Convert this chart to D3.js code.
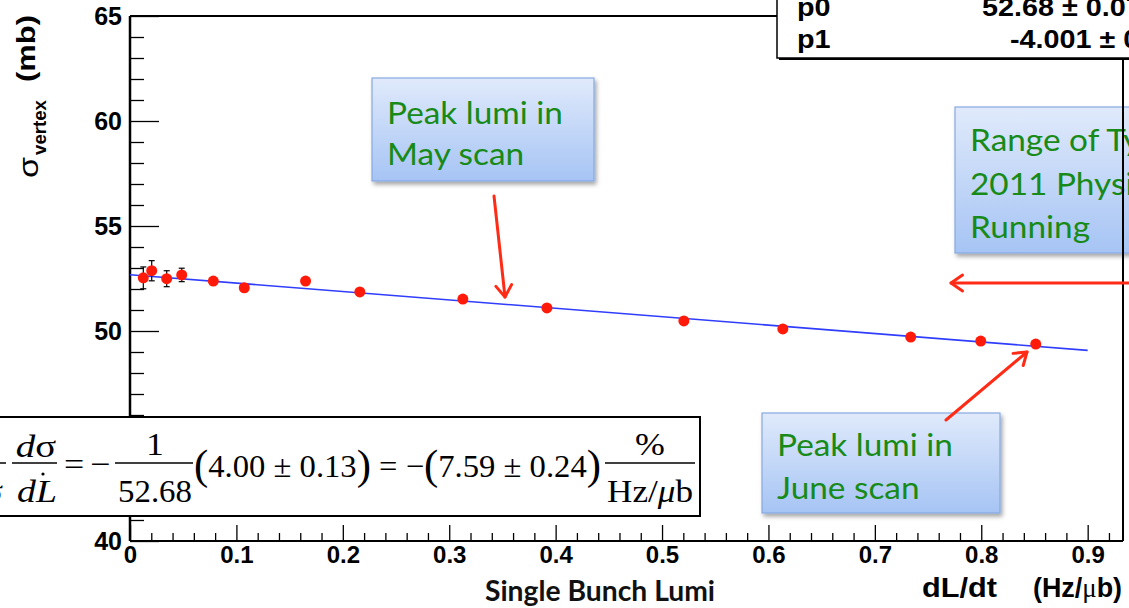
<!DOCTYPE html>
<html><head><meta charset="utf-8">
<script src="https://cdn.jsdelivr.net/npm/d3@7"></script>
<style>html,body{margin:0;padding:0;background:#fff;overflow:hidden}svg{display:block}</style>
</head><body>
<svg id="c" width="1129" height="608"></svg>
<script>
// ---------------- data ----------------
const lumi     = [0.0125,0.0204,0.0345,0.0486,0.0783,0.1074,0.165,0.216,0.3128,0.3918,0.5205,0.6135,0.7337,0.7995,0.8512];
const sigma    = [52.53,52.87,52.49,52.67,52.38,52.06,52.38,51.86,51.52,51.10,50.48,50.10,49.71,49.52,49.38];
const sigmaErr = [0.52,0.48,0.38,0.32,0.15,0.15,0.15,0.15,0.15,0.15,0.15,0.15,0.15,0.15,0.15];
const fitLumi  = [0, 0.9];
const fitSigma = [52.68, 49.079];
const xTickValues = [0,0.1,0.2,0.3,0.4,0.5,0.6,0.7,0.8,0.9];
const yTickValues = [40,45,50,55,60,65];
const statNames  = ["p0","p1"];
const statValues = ["52.68 \u00b1 0.07","-4.001 \u00b1 0.130"];
const noteMay  = ["Peak lumi in","May scan"];
const noteJune = ["Peak lumi in","June scan"];
const noteRange= ["Range of Typical","2011 Physics","Running"];

// ---------------- layout ----------------
const svg = d3.select("#c");
const L=130, R=1123, T=16, B=541;
const x = d3.scaleLinear().domain([0,0.9332]).range([L,R]);
const y = d3.scaleLinear().domain([40,65]).range([B,T]);
const ROOTF = "'Liberation Sans', Arial, sans-serif";
const SERIF = "'Liberation Serif', 'Times New Roman', serif";
const CAL = "Lato, 'Open Sans', sans-serif";
const RED = "#ff2b16";

const defs = svg.append("defs");
const grad = defs.append("linearGradient").attr("id","bg").attr("x1",0).attr("y1",0).attr("x2",0).attr("y2",1);
grad.append("stop").attr("offset","0%").attr("stop-color","#e0eafb");
grad.append("stop").attr("offset","100%").attr("stop-color","#a6c4f4");
const sh = defs.append("filter").attr("id","sh").attr("x","-10%").attr("y","-10%").attr("width","130%").attr("height","140%");
sh.append("feDropShadow").attr("dx",2).attr("dy",3).attr("stdDeviation",2).attr("flood-color","#000").attr("flood-opacity",0.35);

// text helper with horizontal stretch
function txt(parent, px, py, s, o={}){
  const g = parent.append("g").attr("transform",`translate(${px},${py}) scale(${o.sx||1},1)${o.rot?` rotate(${o.rot})`:""}`);
  const t = g.append("text").attr("x",0).attr("y",0)
    .attr("font-family",o.ff||ROOTF).attr("font-size",o.fs||21)
    .attr("font-weight",o.fw||"normal").attr("font-style",o.fst||"normal")
    .attr("fill",o.fill||"#000").attr("text-anchor",o.anchor||"start").text(s);
  if(o.len){ t.attr("textLength",o.len).attr("lengthAdjust","spacingAndGlyphs"); }
  return t;
}

// ---------------- axes ----------------
const yMinor = d3.range(40,65.001,1).filter(v=>v%5!==0);
svg.append("g").attr("transform",`translate(${L},0)`)
  .call(d3.axisLeft(y).tickValues(yMinor).tickSize(-14).tickFormat(""))
  .call(g=>g.select(".domain").remove())
  .call(g=>g.selectAll("line").attr("stroke","#000").attr("stroke-width",1.3));
svg.append("g").attr("transform",`translate(${L},0)`)
  .call(d3.axisLeft(y).tickValues(yTickValues).tickSize(-29).tickPadding(8).tickFormat(d3.format("d")))
  .call(g=>g.select(".domain").remove())
  .call(g=>g.selectAll("line").attr("stroke","#000").attr("stroke-width",1.3))
  .call(g=>g.selectAll("text").attr("font-family",ROOTF).attr("font-size",25).attr("font-weight","bold").attr("fill","#000"));

const xMinor = d3.range(0,0.9332,0.02).filter(v=>Math.abs(v*10-Math.round(v*10))>1e-6);
svg.append("g").attr("transform",`translate(0,${B})`)
  .call(d3.axisBottom(x).tickValues(xMinor).tickSize(-8).tickFormat(""))
  .call(g=>g.select(".domain").remove())
  .call(g=>g.selectAll("line").attr("stroke","#000").attr("stroke-width",1.3));
svg.append("g").attr("transform",`translate(0,${B})`)
  .call(d3.axisBottom(x).tickValues(xTickValues).tickSize(-16).tickPadding(5).tickFormat(d=>d===0?"0":d3.format(".1f")(d)))
  .call(g=>g.select(".domain").remove())
  .call(g=>g.selectAll("line").attr("stroke","#000").attr("stroke-width",1.3))
  .call(g=>g.selectAll("text").attr("font-family",ROOTF).attr("font-size",24).attr("font-weight","bold").attr("fill","#000"));

// frame
svg.append("line").attr("x1",L).attr("x2",L).attr("y1",T).attr("y2",B).attr("stroke","#000").attr("stroke-width",2.5);
svg.append("line").attr("x1",L).attr("x2",R).attr("y1",B).attr("y2",B).attr("stroke","#000").attr("stroke-width",2);
svg.append("line").attr("x1",L).attr("x2",R).attr("y1",T).attr("y2",T).attr("stroke","#000").attr("stroke-width",2);

// ---------------- fit + points ----------------
svg.append("path").datum(fitLumi.map((v,i)=>[v,fitSigma[i]]))
  .attr("d",d3.line().x(d=>x(d[0])).y(d=>y(d[1])))
  .attr("fill","none").attr("stroke","#2f3dff").attr("stroke-width",1.6);
const pts = lumi.map((v,i)=>({x:v,y:sigma[i],e:sigmaErr[i]}));
const eb = svg.append("g").attr("stroke","#000").attr("stroke-width",1.2);
pts.forEach(p=>{
  eb.append("line").attr("x1",x(p.x)).attr("x2",x(p.x)).attr("y1",y(p.y-p.e)).attr("y2",y(p.y+p.e));
  [p.y-p.e,p.y+p.e].forEach(v=>eb.append("line").attr("x1",x(p.x)-3).attr("x2",x(p.x)+3).attr("y1",y(v)).attr("y2",y(v)));
});
svg.append("g").selectAll("circle").data(pts).join("circle")
  .attr("cx",d=>x(d.x)).attr("cy",d=>y(d.y)).attr("r",5.5).attr("fill","#ff1a0a");

// ---------------- axis titles ----------------
txt(svg, 922, 597, "dL/dt", {fs:27, fw:"bold", len:75});
{
  const t = txt(svg, 1033, 597, "", {fs:27, fw:"bold", len:89});
  t.append("tspan").text("(Hz/");
  t.append("tspan").attr("font-family",SERIF).attr("font-weight","normal").text("\u03bc");
  t.append("tspan").text("b)");
}
txt(svg, 485, 601, "Single Bunch Lumi", {ff:CAL, fs:29, fw:"bold", len:230, fill:"#111"});
// y title (rotated)
txt(svg, 38, 178, "\u03c3", {fs:28, rot:-90, len:21});
txt(svg, 46, 155, "vertex", {fs:19, fw:"bold", rot:-90, len:55});
txt(svg, 35, 82, "(mb)", {fs:25, fw:"bold", rot:-90, len:67});

// ---------------- stats box ----------------
svg.append("rect").attr("x",779).attr("y",-6).attr("width",360).attr("height",66).attr("fill","#000");
svg.append("rect").attr("x",777).attr("y",-8).attr("width",360).attr("height",66).attr("fill","#fff").attr("stroke","#000").attr("stroke-width",1.5);
statNames.forEach((n,i)=>{
  txt(svg, 797, 16+i*32, n, {fs:25, fw:"bold", sx:1.15});
});
txt(svg, 982, 16, statValues[0], {fs:25, fw:"bold", sx:1.15});
txt(svg, 1010, 48, statValues[1], {fs:25, fw:"bold", sx:1.15});

// ---------------- annotations ----------------
function box(x0,y0,w,h){
  svg.append("rect").attr("x",x0).attr("y",y0).attr("width",w).attr("height",h)
    .attr("fill","url(#bg)").attr("stroke","#86a9e2").attr("stroke-width",1.2).attr("filter","url(#sh)");
}
function note(lines, x0, y0, dy){
  const FSN = 30;
  const probe = svg.append("text").attr("font-family",CAL).attr("font-size",FSN).text("Peak lumi in");
  const nat = probe.node().getComputedTextLength(); probe.remove();
  const sx = 176/nat;
  lines.forEach((s,i)=>txt(svg, x0, y0+i*dy, s, {ff:CAL, fs:FSN, fill:"#178a17", sx}));
}
box(372,78,222,103);  note(noteMay, 387, 124, 41);
box(762,413,238,100); note(noteJune, 777, 456, 43);
box(955,107,200,146); note(noteRange, 970, 151, 43.5);

// right frame line drawn over box
svg.append("line").attr("x1",R).attr("x2",R).attr("y1",58).attr("y2",B).attr("stroke","#000").attr("stroke-width",2);

function arrow(x1,y1,x2,y2){
  const a = Math.atan2(y2-y1,x2-x1), hl=14, ha=0.6;
  const g = svg.append("g").attr("stroke",RED).attr("stroke-width",3).attr("fill","none").attr("stroke-linecap","round").attr("stroke-linejoin","round");
  g.append("line").attr("x1",x1).attr("y1",y1).attr("x2",x2).attr("y2",y2);
  g.append("path").attr("d",`M${x2-hl*Math.cos(a-ha)},${y2-hl*Math.sin(a-ha)} L${x2},${y2} L${x2-hl*Math.cos(a+ha)},${y2-hl*Math.sin(a+ha)}`);
}
arrow(494,196,505,297);
arrow(1135,283,951,283);
arrow(946,420,1027,352);

// ---------------- formula box ----------------
const fb = svg.append("g");
fb.append("rect").attr("x",-10).attr("y",417).attr("width",710).attr("height",99).attr("fill","#fff").attr("stroke","#000").attr("stroke-width",2);
function bar(x1,x2,yy){ fb.append("line").attr("x1",x1).attr("x2",x2).attr("y1",yy).attr("y2",yy).attr("stroke","#000").attr("stroke-width",1.4); }
const FS=32, FSX=1.12;
// hidden 1/sigma
bar(-30,6,463);
txt(fb,-12,455,"1",{ff:SERIF,fs:FS,anchor:"middle",sx:FSX});
txt(fb,3,502,"\u03c3",{ff:SERIF,fs:FS,anchor:"end",sx:FSX});
// dσ / dL
{
  const t = txt(fb,36,457,"",{ff:SERIF,fs:FS,anchor:"middle",sx:1.22});
  t.append("tspan").attr("font-style","italic").text("d");
  t.append("tspan").text("\u03c3");
}
bar(12,57,463);
{
  const t = txt(fb,37,502,"",{ff:SERIF,fs:FS,anchor:"middle",sx:1.18,fst:"italic"});
  t.text("dL");
  fb.append("circle").attr("cx",43).attr("cy",474).attr("r",1.6).attr("fill","#000");
}
txt(fb,74,475,"=",{ff:SERIF,fs:FS,anchor:"middle",sx:FSX});
txt(fb,100,475,"\u2212",{ff:SERIF,fs:FS,anchor:"middle",sx:FSX});
txt(fb,155,455,"1",{ff:SERIF,fs:FS,anchor:"middle",sx:FSX});
bar(115,193,463);
txt(fb,155,502,"52.68",{ff:SERIF,fs:FS,anchor:"middle",len:74});
{
  const t = fb.append("text").attr("x",194).attr("y",477).attr("font-family",SERIF).attr("font-size",FS)
    .attr("textLength",407).attr("lengthAdjust","spacingAndGlyphs");
  t.append("tspan").attr("font-size",42).attr("dy",2).text("(");
  t.append("tspan").attr("dy",-2).text("4.00 \u00b1 0.13");
  t.append("tspan").attr("font-size",42).attr("dy",2).text(")");
  t.append("tspan").attr("dy",-2).text(" = \u2212");
  t.append("tspan").attr("font-size",42).attr("dy",2).text("(");
  t.append("tspan").attr("dy",-2).text("7.59 \u00b1 0.24");
  t.append("tspan").attr("font-size",42).attr("dy",2).text(")");
}
txt(fb,650,455,"%",{ff:SERIF,fs:FS,anchor:"middle",sx:FSX});
bar(605,695,463);
{
  const t = fb.append("text").attr("x",607).attr("y",502).attr("font-family",SERIF).attr("font-size",FS)
    .attr("textLength",86).attr("lengthAdjust","spacingAndGlyphs");
  t.append("tspan").text("Hz/");
  t.append("tspan").attr("font-style","italic").text("\u03bc");
  t.append("tspan").text("b");
}
</script>
</body></html>
